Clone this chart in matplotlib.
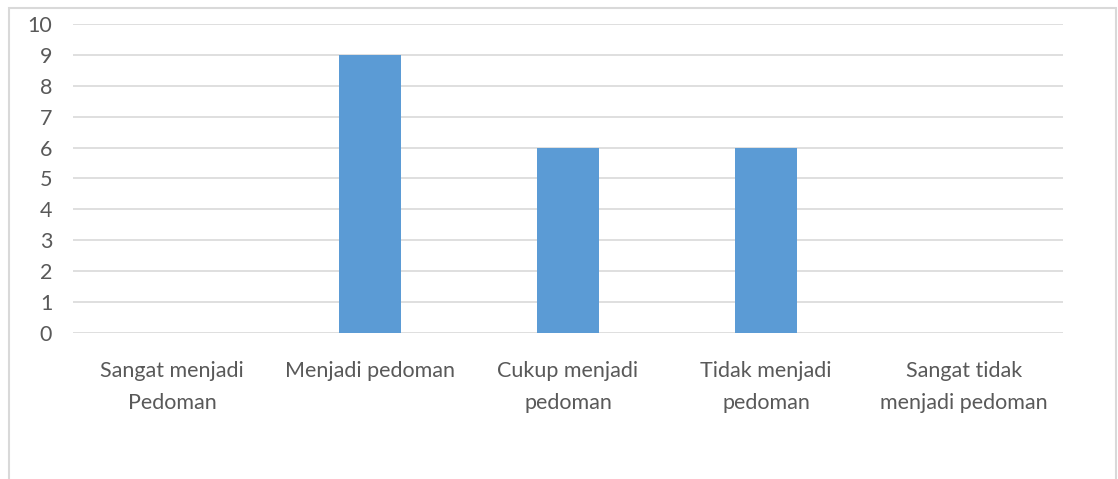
import matplotlib.pyplot as plt

categories = ["Sangat menjadi\nPedoman", "Menjadi pedoman", "Cukup menjadi\npedoman",
              "Tidak menjadi\npedoman", "Sangat tidak\nmenjadi pedoman"]
values = [0, 9, 6, 6, 0]
yticks = list(range(0, 11))

plt.rcParams["font.family"] = ["Lato", "DejaVu Sans"]
text_color = "#595959"

fig = plt.figure(figsize=(11.18, 4.79), dpi=100)
ax = fig.add_axes([0.0653, 0.305, 0.8855, 0.645])

x = list(range(len(categories)))
ax.bar(x, values, width=0.31, color="#5B9BD5", zorder=3)

ax.set_xlim(-0.5, len(categories) - 0.5)
ax.set_ylim(0, 10)
ax.set_yticks(yticks)
ax.set_xticks(x)
ax.set_xticklabels(categories, fontsize=15.5, color=text_color, linespacing=1.75)
ax.tick_params(axis="y", labelsize=15.5, labelcolor=text_color, length=0, pad=15)
ax.tick_params(axis="x", length=0, pad=20)
ax.grid(axis="y", color="#d9d9d9", linewidth=1.2, zorder=0)
for s in ax.spines.values():
    s.set_visible(False)

# chart border
fig.patches.append(plt.Rectangle((9 / 1118, -0.1), 1107 / 1118, 1 - 8 / 479 + 0.1,
                                 transform=fig.transFigure, fill=False,
                                 edgecolor="#d9d9d9", linewidth=1.5))

fig.savefig("out.png", dpi=100)
